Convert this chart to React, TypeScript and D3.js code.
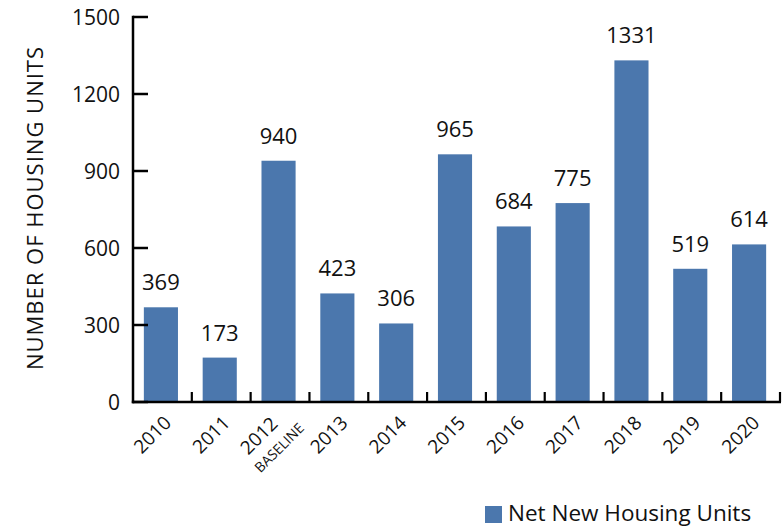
import React from "react";
import * as d3 from "d3";

const years = ["2010", "2011", "2012", "2013", "2014", "2015", "2016", "2017", "2018", "2019", "2020"];
const units = [369, 173, 940, 423, 306, 965, 684, 775, 1331, 519, 614];
const yTicks = [0, 300, 600, 900, 1200, 1500];
const seriesName = "Net New Housing Units";
const yTitle = "NUMBER OF HOUSING UNITS";
const baselineNote = "BASELINE";

const W = 784;
const H = 527;
const FONT = "'Open Sans', sans-serif";
const BAR = "#4b77ad";

export default function App() {
  const x = d3.scaleBand<string>().domain(years).range([133, 780]).paddingInner(0.42).paddingOuter(0.21);
  const y = d3.scaleLinear().domain([0, 1500]).range([402, 17]);
  const step = x.step();
  const x0 = 133;
  const boundaries = years.map((_, i) => x0 + (i + 1) * step);

  return (
    <div style={{ position: "fixed", left: 0, top: 0 }}>
      <svg width={W} height={H} style={{ display: "block", background: "#fff" }}>
        {/* bars */}
        {years.map((yr, i) => (
          <rect key={yr} x={(x(yr) as number) - 1.5} y={y(units[i])} width={x.bandwidth()} height={y(0) - y(units[i])} fill={BAR} />
        ))}
        {/* value labels */}
        {years.map((yr, i) => (
          <text key={"v" + yr} x={(x(yr) as number) - 1.5 + x.bandwidth() / 2} y={y(units[i]) - 17} textAnchor="middle"
            fontFamily={FONT} fontSize={22} fill="#111">{units[i]}</text>
        ))}
        {/* y axis */}
        <line x1={133} x2={133} y1={y(1500) - 1.2} y2={y(0) + 1.2} stroke="#000" strokeWidth={2.5} />
        {yTicks.map((t) => (
          <g key={t}>
            <line x1={133} x2={148} y1={y(t)} y2={y(t)} stroke="#000" strokeWidth={2.5} />
            <text x={120} y={y(t)} dy="0.36em" textAnchor="end" fontFamily={FONT} fontSize={21} fill="#111">{t}</text>
          </g>
        ))}
        {/* x axis */}
        <line x1={131.8} x2={781} y1={y(0)} y2={y(0)} stroke="#000" strokeWidth={2.5} />
        {boundaries.map((b, i) => (
          <line key={i} x1={b} x2={b} y1={y(0)} y2={y(0) - 10} stroke="#000" strokeWidth={2.2} />
        ))}
        {years.map((yr) => {
          const c = (x(yr) as number) + x.bandwidth() / 2;
          if (yr === "2012") {
            return (
              <g key={"t" + yr}>
                <text transform={`translate(${c - 1},${425}) rotate(-45)`} textAnchor="end" fontFamily={FONT} fontSize={19} fill="#111">{yr}</text>
                <text transform={`translate(${c + 25},${429}) rotate(-45)`} textAnchor="end" fontFamily={FONT} fontSize={14} fill="#111">{baselineNote}</text>
              </g>
            );
          }
          return (
            <text key={"t" + yr} transform={`translate(${c + 10},${424}) rotate(-45)`} textAnchor="end" fontFamily={FONT} fontSize={19} fill="#111">{yr}</text>
          );
        })}
        {/* y title */}
        <text transform={`translate(${43},${208}) rotate(-90)`} textAnchor="middle" fontFamily={FONT} fontSize={22} letterSpacing={1} fill="#111">{yTitle}</text>
        {/* legend */}
        <rect x={485} y={506} width={17} height={17} fill={BAR} />
        <text x={508} y={521} fontFamily={FONT} fontSize={22.5} fill="#111">{seriesName}</text>
      </svg>
    </div>
  );
}
